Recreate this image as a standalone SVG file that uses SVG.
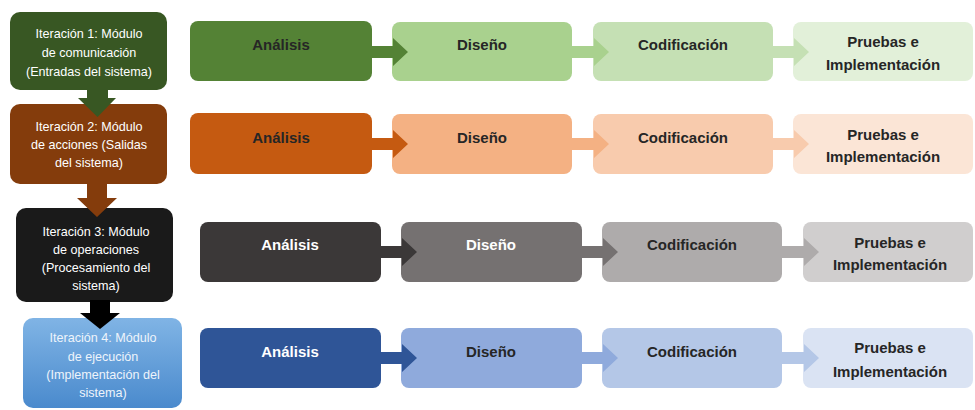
<svg xmlns="http://www.w3.org/2000/svg" width="975" height="410" viewBox="0 0 975 410">
  <defs>
    <linearGradient id="blueIter" x1="0" y1="0" x2="0" y2="1">
      <stop offset="0" stop-color="#80b4e5"/>
      <stop offset="1" stop-color="#4a8acd"/>
    </linearGradient>
    <style>
      .iter { font-family: "Liberation Sans", Arial, sans-serif; font-size: 12.6px; fill: #ffffff; text-anchor: middle; }
      .iter.soft { fill: #eef4fb; }
      .step { font-family: "Liberation Sans", Arial, sans-serif; font-size: 15px; font-weight: bold; fill: #262626; text-anchor: middle; }
      .step.light { fill: #ffffff; }
    </style>
  </defs>
  <rect width="975" height="410" fill="#ffffff"/>

  <!-- Iteration column -->
  <g id="iter1">
    <rect x="10" y="12" width="157" height="78" rx="10" fill="#385723"/>
    <text class="iter" x="89" y="38">Iteración 1: Módulo</text>
    <text class="iter" x="89" y="57">de comunicación</text>
    <text class="iter" x="89" y="76">(Entradas del sistema)</text>
  </g>
  <g id="iter2">
    <rect x="10" y="104" width="157" height="80" rx="10" fill="#843c0c"/>
    <text class="iter" x="89" y="131">Iteración 2: Módulo</text>
    <text class="iter" x="89" y="149">de acciones (Salidas</text>
    <text class="iter" x="89" y="167">del sistema)</text>
  </g>
  <g id="iter3">
    <rect x="16" y="208" width="157" height="94" rx="10" fill="#1a1a1a"/>
    <text class="iter" x="96" y="236">Iteración 3: Módulo</text>
    <text class="iter" x="96" y="254">de operaciones</text>
    <text class="iter" x="96" y="272">(Procesamiento del</text>
    <text class="iter" x="96" y="290">sistema)</text>
  </g>
  <g id="iter4">
    <rect x="23" y="318" width="159" height="90" rx="10" fill="url(#blueIter)"/>
    <text class="iter soft" x="103" y="342">Iteración 4: Módulo</text>
    <text class="iter soft" x="103" y="361">de ejecución</text>
    <text class="iter soft" x="103" y="379">(Implementación del</text>
    <text class="iter soft" x="103" y="397">sistema)</text>
  </g>

  <!-- Row 1 -->
  <g id="r1-analisis">
    <rect x="190" y="21" width="182" height="60" rx="8" fill="#548235"/>
    <text class="step" x="281" y="50">Análisis</text>
  </g>
  <g id="r1-diseno">
    <rect x="392" y="22" width="180" height="59" rx="8" fill="#a9d18e"/>
    <text class="step" x="482" y="50">Diseño</text>
  </g>
  <g id="r1-codificacion">
    <rect x="593" y="22" width="180" height="59" rx="8" fill="#c5e0b4"/>
    <text class="step" x="683" y="50">Codificación</text>
  </g>
  <g id="r1-pruebas">
    <rect x="793" y="22" width="180" height="59" rx="8" fill="#e2f0d9"/>
    <text class="step" x="883" y="47">Pruebas e</text>
    <text class="step" x="883" y="70">Implementación</text>
  </g>

  <!-- Row 2 -->
  <g id="r2-analisis">
    <rect x="190" y="113" width="182" height="61" rx="8" fill="#c55a11"/>
    <text class="step" x="281" y="143">Análisis</text>
  </g>
  <g id="r2-diseno">
    <rect x="392" y="114" width="180" height="60" rx="8" fill="#f4b183"/>
    <text class="step" x="482" y="143">Diseño</text>
  </g>
  <g id="r2-codificacion">
    <rect x="593" y="114" width="180" height="60" rx="8" fill="#f8cbad"/>
    <text class="step" x="683" y="143">Codificación</text>
  </g>
  <g id="r2-pruebas">
    <rect x="793" y="114" width="180" height="60" rx="8" fill="#fbe5d6"/>
    <text class="step" x="883" y="140">Pruebas e</text>
    <text class="step" x="883" y="162">Implementación</text>
  </g>

  <!-- Row 3 -->
  <g id="r3-analisis">
    <rect x="200" y="222" width="181" height="60" rx="8" fill="#3b3838"/>
    <text class="step light" x="290" y="250">Análisis</text>
  </g>
  <g id="r3-diseno">
    <rect x="401" y="222" width="181" height="60" rx="8" fill="#757171"/>
    <text class="step light" x="491" y="250">Diseño</text>
  </g>
  <g id="r3-codificacion">
    <rect x="602" y="222" width="180" height="60" rx="8" fill="#aeabab"/>
    <text class="step" x="692" y="250">Codificación</text>
  </g>
  <g id="r3-pruebas">
    <rect x="803" y="222" width="170" height="60" rx="8" fill="#d0cece"/>
    <text class="step" x="890" y="248">Pruebas e</text>
    <text class="step" x="890" y="270">Implementación</text>
  </g>

  <!-- Row 4 -->
  <g id="r4-analisis">
    <rect x="200" y="328" width="181" height="60" rx="8" fill="#2f5597"/>
    <text class="step light" x="290" y="357">Análisis</text>
  </g>
  <g id="r4-diseno">
    <rect x="401" y="328" width="181" height="60" rx="8" fill="#8faadc"/>
    <text class="step" x="491" y="357">Diseño</text>
  </g>
  <g id="r4-codificacion">
    <rect x="602" y="328" width="180" height="60" rx="8" fill="#b4c7e7"/>
    <text class="step" x="692" y="357">Codificación</text>
  </g>
  <g id="r4-pruebas">
    <rect x="803" y="328" width="170" height="60" rx="8" fill="#dae3f3"/>
    <text class="step" x="890" y="353">Pruebas e</text>
    <text class="step" x="890" y="377">Implementación</text>
  </g>

  <!-- Block arrows -->
  <g id="connectors">
    <!-- iteration flow -->
    <path d="M87 88 H108 V98 H116 L97.5 117 L78 98 H87 Z" fill="#385723"/>
    <path d="M87 182 H107 V198 H117 L97 217 L77 198 H87 Z" fill="#843c0c"/>
    <path d="M90 300 H110 V313 H120 L100 329 L80 313 H90 Z" fill="#000000"/>

    <!-- row 1 -->
    <path d="M370 46 H393 V38 L408 52 L393 66 V58 H370 Z" fill="#548235"/>
    <path d="M570 46 H594 V38 L609 52 L594 66 V58 H570 Z" fill="#a9d18e"/>
    <path d="M771 46 H794 V38 L809 52 L794 66 V58 H771 Z" fill="#c5e0b4"/>
    <!-- row 2 -->
    <path d="M370 138 H393 V130 L408 144 L393 158 V150 H370 Z" fill="#c55a11"/>
    <path d="M570 138 H594 V130 L609 144 L594 158 V150 H570 Z" fill="#f4b183"/>
    <path d="M771 138 H794 V130 L809 144 L794 158 V150 H771 Z" fill="#f8cbad"/>
    <!-- row 3 -->
    <path d="M379 246 H402 V238 L417 252 L402 266 V258 H379 Z" fill="#3b3838"/>
    <path d="M580 246 H603 V238 L618 252 L603 266 V258 H580 Z" fill="#757171"/>
    <path d="M780 246 H804 V238 L819 252 L804 266 V258 H780 Z" fill="#aeabab"/>
    <!-- row 4 -->
    <path d="M379 352 H402 V344 L417 358 L402 372 V364 H379 Z" fill="#2f5597"/>
    <path d="M580 352 H603 V344 L618 358 L603 372 V364 H580 Z" fill="#8faadc"/>
    <path d="M780 352 H804 V344 L819 358 L804 372 V364 H780 Z" fill="#b4c7e7"/>
  </g>
</svg>
